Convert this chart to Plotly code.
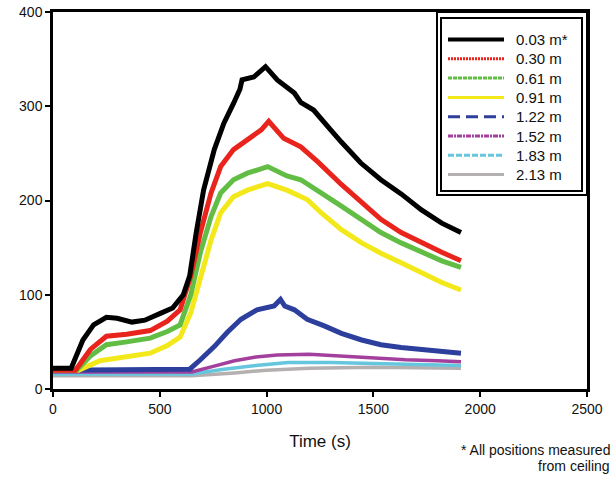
import plotly.graph_objects as go

# ---- data ----
labels = ["0.03 m*", "0.30 m", "0.61 m", "0.91 m", "1.22 m", "1.52 m", "1.83 m", "2.13 m"]

t_003 = [0, 85, 140, 190, 250, 300, 370, 430, 500, 560, 610, 640, 670, 705, 755, 800, 845, 875, 885, 940, 995, 1050, 1130, 1160, 1220, 1255, 1300, 1350, 1440, 1535, 1630, 1725, 1820, 1910]
v_003 = [22, 22, 52, 68, 76, 75, 71, 73, 80, 86, 100, 120, 165, 211, 254, 282, 303, 318, 328, 331, 342, 328, 314, 304, 296, 286, 275, 262, 240, 222, 207, 190, 176, 166]

t_030 = [0, 105, 175, 250, 345, 455, 535, 595, 645, 690, 740, 785, 845, 910, 975, 1010, 1080, 1160, 1240, 1350, 1445, 1535, 1630, 1725, 1820, 1910]
v_030 = [20, 20, 42, 56, 58, 62, 72, 84, 120, 166, 208, 236, 254, 264, 275, 284, 266, 257, 241, 217, 198, 180, 166, 155, 145, 136]

t_061 = [0, 110, 175, 250, 345, 455, 535, 595, 645, 690, 740, 785, 845, 910, 1005, 1095, 1160, 1190, 1255, 1350, 1445, 1535, 1630, 1725, 1820, 1910]
v_061 = [20, 20, 35, 47, 50, 54, 61, 68, 100, 145, 183, 208, 222, 229, 236, 226, 222, 218, 208, 194, 180, 166, 155, 145, 136, 129]

t_091 = [0, 120, 220, 330, 455, 535, 595, 645, 690, 740, 785, 845, 910, 1005, 1095, 1160, 1190, 1255, 1350, 1445, 1535, 1630, 1725, 1820, 1910]
v_091 = [20, 20, 30, 34, 38, 46, 55, 81, 116, 158, 187, 204, 211, 218, 211, 204, 201, 187, 169, 155, 144, 134, 123, 113, 105]

t_122 = [0, 640, 690, 755, 815, 880, 955, 1035, 1065, 1085, 1130, 1190, 1270, 1350, 1445, 1535, 1630, 1725, 1820, 1910]
v_122 = [20, 21, 31, 45, 60, 74, 84, 88, 95, 88, 84, 74, 67, 59, 52, 47, 44, 42, 40, 38]

t_152 = [0, 650, 750, 850, 950, 1050, 1200, 1350, 1500, 1650, 1800, 1910]
v_152 = [18, 18, 24, 30, 34, 36, 37, 35, 33, 31, 30, 29]

t_183 = [0, 650, 800, 950, 1100, 1300, 1500, 1700, 1910]
v_183 = [16, 16, 21, 25, 28, 28, 27, 26, 25]

t_213 = [0, 650, 850, 1000, 1200, 1500, 1910]
v_213 = [14, 14, 17, 20, 22, 23, 22]

x_ticks = [0, 500, 1000, 1500, 2000, 2500]
y_ticks = [0, 100, 200, 300, 400]

# ---- styles ----
colors = ["#000000", "#e8241c", "#62bd45", "#f2e81a", "#2c3f9c", "#a3409e", "#66c6de", "#b4b0b0"]
widths = [5, 5, 5, 5, 5, 3.5, 3.5, 3.5]
legend_dash = ["solid", "2px,1px", "4px,1px", "solid", "12px,6px", "5px,1px,2px,1px", "6px,2px", "solid"]

series = [(t_003, v_003), (t_030, v_030), (t_061, v_061), (t_091, v_091),
          (t_122, v_122), (t_152, v_152), (t_183, v_183), (t_213, v_213)]

fig = go.Figure()
for i in reversed(range(len(series))):
    t, v = series[i]
    fig.add_trace(go.Scatter(x=t, y=v, mode="lines", name=labels[i], showlegend=False,
                             line=dict(color=colors[i], width=widths[i]),
                             hoverinfo="skip"))

L, R, T, B = 53, 29, 12, 88
W, H = 616, 477
pw, ph = W - L - R, H - T - B

def px_x(p):
    return (p - L) / pw

def px_y(p):
    return (H - B - p) / ph

shapes = [
    dict(type="rect", xref="paper", yref="paper", x0=px_x(437), x1=1.0,
         y0=px_y(195), y1=1.0, line=dict(color="black", width=2)),
    dict(type="rect", xref="paper", yref="paper", x0=px_x(441), x1=px_x(582),
         y0=px_y(191), y1=px_y(18), line=dict(color="black", width=2)),
]
annotations = []
row_y0, row_step = 39.5, 19.3
for i, lab in enumerate(labels):
    yy = px_y(row_y0 + row_step * i)
    shapes.append(dict(type="line", xref="paper", yref="paper",
                       x0=px_x(448), x1=px_x(504), y0=yy, y1=yy,
                       line=dict(color=colors[i], width=4 if i == 0 else 3,
                                 dash=legend_dash[i])))
    annotations.append(dict(text=lab, xref="paper", yref="paper",
                            x=px_x(514), y=yy, xanchor="left", yanchor="middle",
                            showarrow=False, font=dict(size=15, color="#111111")))

annotations += [
    dict(text="* All positions measured", xref="paper", yref="paper",
         x=px_x(611), y=px_y(450), xanchor="right", yanchor="middle",
         showarrow=False, borderpad=0, font=dict(size=14, color="#111111")),
    dict(text="from ceiling", xref="paper", yref="paper",
         x=px_x(611), y=px_y(466), xanchor="right", yanchor="middle",
         showarrow=False, borderpad=0, font=dict(size=14, color="#111111")),
]

fig.update_layout(
    width=W, height=H,
    margin=dict(l=L, r=R, t=T, b=B, autoexpand=False),
    paper_bgcolor="white", plot_bgcolor="white",
    font=dict(family="Arial, Liberation Sans, sans-serif", color="#111111"),
    showlegend=False,
    xaxis=dict(range=[0, 2500], tickvals=x_ticks, ticks="outside", ticklen=5,
               tickwidth=2, tickcolor="black", showline=True, linewidth=2.5,
               linecolor="black", mirror=True, showgrid=False, zeroline=False,
               automargin=False,
               tickfont=dict(size=14, color="#111111"),
               title=dict(text="Time (s)", font=dict(size=17, color="#111111"), standoff=20)),
    yaxis=dict(range=[0, 400], tickvals=y_ticks, ticks="outside", ticklen=5,
               tickwidth=2, tickcolor="black", showline=True, linewidth=2.5,
               linecolor="black", mirror=True, showgrid=False, zeroline=False,
               automargin=False,
               tickfont=dict(size=14, color="#111111")),
    shapes=shapes,
    annotations=annotations,
)

fig.write_html("out.html", config={"displayModeBar": False},
               post_script="document.body.style.margin='0';")
